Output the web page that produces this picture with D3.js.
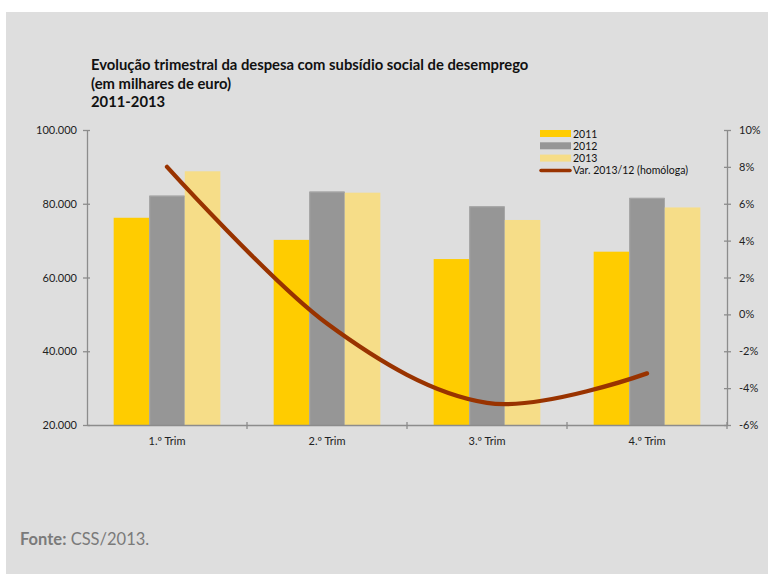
<!DOCTYPE html>
<html>
<head>
<meta charset="utf-8">
<script src="https://cdn.jsdelivr.net/npm/d3@7/dist/d3.min.js"></script>
<style>
  html, body { margin: 0; padding: 0; background: #ffffff; }
  svg { display: block; }
  text { font-family: Lato, "Open Sans", "DejaVu Sans", sans-serif; }
</style>
</head>
<body>
<svg id="chart" width="768" height="574"></svg>
<script>
// Quarterly spending on social unemployment subsidy (thousand euro)
const quarters = ["1.º Trim", "2.º Trim", "3.º Trim", "4.º Trim"];
const years = ["2011", "2012", "2013"];
const values2011 = [76200, 70200, 65000, 67000];
const values2012 = [82200, 83300, 79300, 81600];
const values2013 = [88800, 83000, 75600, 79000];
// Year-on-year change 2013 vs 2012 (%)
const variation = [8.0, -0.5, -4.8, -3.2];
const leftTicks = [20000, 40000, 60000, 80000, 100000];
const rightTicks = [-6, -4, -2, 0, 2, 4, 6, 8, 10];

const colors = { "2011": "#FFCC00", "2012": "#969696", "2013": "#F6DD88" };
const lineColor = "#993300";
const axisColor = "#8c8c8c";

const svg = d3.select("#chart");

// panel background
svg.append("rect").attr("x", 6).attr("y", 12).attr("width", 762).attr("height", 562)
  .attr("fill", "#DEDEDE");

const plot = { left: 87, right: 727, top: 130, bottom: 425 };

const x = d3.scaleBand().domain(quarters).range([plot.left, plot.right]);
const xInner = d3.scaleBand().domain(years)
  .range([0, x.bandwidth()]).paddingOuter(0.75).paddingInner(0);
const y = d3.scaleLinear().domain([20000, 100000]).range([plot.bottom, plot.top]);
const y2 = d3.scaleLinear().domain([-6, 10]).range([plot.bottom, plot.top]);

// title
const title = svg.append("text").attr("x", 91).attr("y", 70)
  .attr("font-size", 14.8).attr("font-weight", "bold").attr("fill", "#111");
["Evolução trimestral da despesa com subsídio social de desemprego",
 "(em milhares de euro)", "2011-2013"].forEach((t, i) => {
  title.append("tspan").attr("x", 91).attr("dy", i === 0 ? 0 : 18.5).text(t);
});

// bars
const seriesData = years.map((yr, i) => ({
  year: yr,
  values: [values2011, values2012, values2013][i]
}));

const groups = svg.append("g").selectAll("g").data(seriesData).join("g")
  .attr("fill", d => colors[d.year]);
groups.selectAll("rect")
  .data(d => d.values.map((v, qi) => ({ year: d.year, q: quarters[qi], v })))
  .join("rect")
  .attr("x", d => x(d.q) + xInner(d.year))
  .attr("width", xInner.bandwidth())
  .attr("y", d => y(d.v))
  .attr("height", d => y(20000) - y(d.v));

// 2012 bars have a faint lighter edge
svg.append("g").selectAll("path").data(values2012).join("path")
  .attr("d", (v, qi) => {
    const x0 = x(quarters[qi]) + xInner("2012") + 0.5;
    const x1 = x0 + xInner.bandwidth() - 1;
    return `M${x0},${plot.bottom} V${y(v) + 0.5} H${x1}`;
  })
  .attr("fill", "none").attr("stroke", "#a8a8a8").attr("stroke-width", 1);

// axes
const leftAxis = d3.axisLeft(y).tickValues(leftTicks)
  .tickFormat(d => d3.format(",")(d).replace(/,/g, "."))
  .tickSizeInner(4).tickSizeOuter(0).tickPadding(6);
const gl = svg.append("g").attr("transform", `translate(${plot.left},0)`).call(leftAxis);

const rightAxis = d3.axisRight(y2).tickValues(rightTicks)
  .tickFormat(d => d + "%").tickSizeInner(4).tickSizeOuter(0).tickPadding(8);
const gr = svg.append("g").attr("transform", `translate(${plot.right},0)`).call(rightAxis);

const bottomAxis = d3.axisBottom(x).tickSize(0).tickPadding(12);
const gb = svg.append("g").attr("transform", `translate(0,${plot.bottom})`).call(bottomAxis);

[gl, gr, gb].forEach(g => {
  g.select(".domain").attr("stroke", axisColor).attr("stroke-width", 1.3);
  g.selectAll(".tick line").attr("stroke", axisColor).attr("stroke-width", 1.3);
  g.selectAll("text").attr("font-size", 11).attr("fill", "#222")
    .style("font-family", "Lato, 'Open Sans', sans-serif");
});
// cross ticks on the value axes
gl.selectAll(".tick line").attr("x1", 3);
gr.selectAll(".tick line").attr("x1", -3);
// category boundary ticks on the x axis
svg.append("g").selectAll("line")
  .data(quarters.slice(1).concat(["_end"]))
  .join("line")
  .attr("x1", d => d === "_end" ? plot.right : x(d))
  .attr("x2", d => d === "_end" ? plot.right : x(d))
  .attr("y1", plot.bottom - 3).attr("y2", plot.bottom + 4)
  .attr("stroke", axisColor).attr("stroke-width", 1.3);

// smoothed variation line
const line = d3.line()
  .x((d, i) => x(quarters[i]) + x.bandwidth() / 2)
  .y(d => y2(d))
  .curve(d3.curveCardinal.tension(0));
svg.append("path").datum(variation)
  .attr("d", line)
  .attr("fill", "none").attr("stroke", lineColor).attr("stroke-width", 4.3)
  .attr("stroke-linecap", "round").attr("stroke-linejoin", "round");

// legend
const legend = svg.append("g").attr("transform", "translate(540,128)");
const legendItems = years.map(yr => ({ label: yr, type: "bar", color: colors[yr] }))
  .concat([{ label: "Var. 2013/12 (homóloga)", type: "line", color: lineColor }]);
const li = legend.selectAll("g").data(legendItems).join("g")
  .attr("transform", (d, i) => `translate(0,${i * 12.3})`);
li.filter(d => d.type === "bar").append("rect")
  .attr("x", 0).attr("y", 2).attr("width", 31).attr("height", 7).attr("fill", d => d.color);
li.filter(d => d.type === "line").append("line")
  .attr("x1", 1).attr("x2", 30).attr("y1", 5.5).attr("y2", 5.5)
  .attr("stroke", d => d.color).attr("stroke-width", 3.5).attr("stroke-linecap", "round");
li.append("text").attr("x", 33).attr("y", 9.5).attr("font-size", 10.5).attr("fill", "#111")
  .text(d => d.label);

// source note
const src = svg.append("text").attr("x", 20).attr("y", 545).attr("font-size", 16.5).attr("fill", "#7a7a7a");
src.append("tspan").attr("font-weight", "bold").text("Fonte:");
src.append("tspan").text(" CSS/2013.");
</script>
</body>
</html>
